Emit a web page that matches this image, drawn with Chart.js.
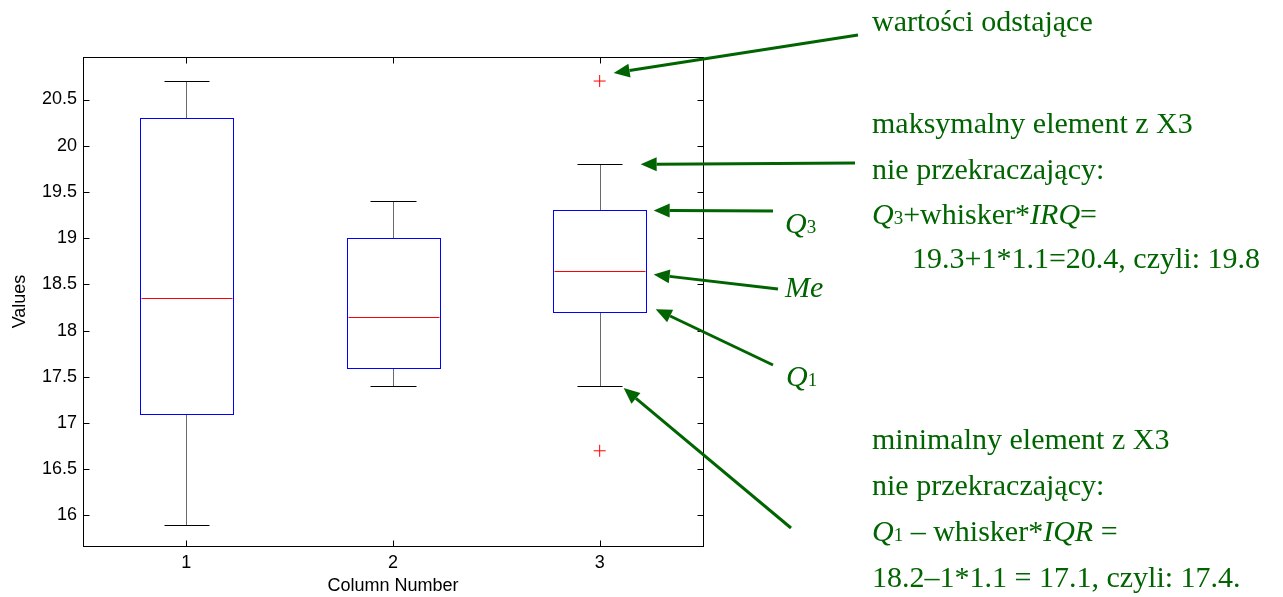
<!DOCTYPE html>
<html>
<head>
<meta charset="utf-8">
<script src="https://cdn.jsdelivr.net/npm/chart.js@4.4.1/dist/chart.umd.min.js"></script>
<style>
  html, body { margin: 0; padding: 0; background: #fff; }
</style>
</head>
<body>
<canvas id="boxChart" width="1283" height="597"></canvas>
<script>
// data
const columns = [1, 2, 3];
const columnLabels = ['1', '2', '3'];
const whiskerLow = [15.9, 17.4, 17.4];
const q1 = [17.1, 17.6, 18.2];
const medians = [18.35, 18.15, 18.65];
const q3 = [20.3, 19.0, 19.3];
const whiskerHigh = [20.7, 19.4, 19.8];
const outlierX = [3, 3];
const outlierY = [20.7, 16.7];
const yTicks = [16, 16.5, 17, 17.5, 18, 18.5, 19, 19.5, 20, 20.5];

const GREEN = '#006400';
const BOX_W = 0.45;
const CAP_W = 0.22;
const SERIF = '"Liberation Serif", "Times New Roman", serif';
const SANS = '"Liberation Sans", Arial, sans-serif';
const axisFont = { family: SANS, size: 18 };

// annotation text (x, baseline, segments)
const notes = [
    { x: 872, y: 31, segs: [{ t: 'wartości odstające' }] },
    { x: 872, y: 133, segs: [{ t: 'maksymalny element z X3' }] },
    { x: 872, y: 179, segs: [{ t: 'nie przekraczający:' }] },
    { x: 872, y: 224, segs: [{ t: 'Q', i: 1 }, { t: '3', sub: 1 }, { t: '+whisker*' }, { t: 'IRQ', i: 1 }, { t: '=' }] },
    { x: 912, y: 268, segs: [{ t: '19.3+1*1.1=20.4, czyli: 19.8' }] },
    { x: 785, y: 233, segs: [{ t: 'Q', i: 1 }, { t: '3', sub: 1 }] },
    { x: 785, y: 297, segs: [{ t: 'Me', i: 1 }] },
    { x: 786, y: 386, segs: [{ t: 'Q', i: 1 }, { t: '1', sub: 1 }] },
    { x: 872, y: 449, segs: [{ t: 'minimalny element z X3' }] },
    { x: 872, y: 495, segs: [{ t: 'nie przekraczający:' }] },
    { x: 872, y: 541, segs: [{ t: 'Q', i: 1 }, { t: '1', sub: 1 }, { t: ' – whisker*' }, { t: 'IQR', i: 1 }, { t: ' =' }] },
    { x: 872, y: 587, segs: [{ t: '18.2–1*1.1 = 17.1, czyli: 17.4.' }] }
];

// arrows: tip anchored to a value of column 3, tail in page pixels
const arrows = [
    { value: 20.7, dx: 14, dy: -8, tail: [858, 35] },
    { value: 19.8, dx: 41, dy: 0, tail: [855, 163] },
    { value: 19.3, dx: 54, dy: 0, tail: [773, 211] },
    { value: 18.65, dx: 54, dy: 4, tail: [778, 289] },
    { value: 18.2, dx: 56, dy: -3, tail: [773, 365] },
    { value: 17.4, dx: 24, dy: 2, tail: [791, 528] }
];

const px = v => Math.round(v) + 0.5;

const boxPlugin = {
    id: 'boxes',
    afterDatasetsDraw(chart) {
        const { ctx, scales: { x, y }, chartArea: a } = chart;
        ctx.save();
        ctx.lineWidth = 1;
        columns.forEach((c, i) => {
            const cx = px(x.getPixelForValue(c));
            const bl = px(x.getPixelForValue(c - BOX_W / 2));
            const br = px(x.getPixelForValue(c + BOX_W / 2));
            const cl = px(x.getPixelForValue(c - CAP_W / 2));
            const cr = px(x.getPixelForValue(c + CAP_W / 2));
            const yq1 = px(y.getPixelForValue(q1[i]));
            const yq3 = px(y.getPixelForValue(q3[i]));
            const ylo = px(y.getPixelForValue(whiskerLow[i]));
            const yhi = px(y.getPixelForValue(whiskerHigh[i]));
            const ymed = px(y.getPixelForValue(medians[i]));

            // whisker stems
            ctx.strokeStyle = '#6a6a6a';
            ctx.beginPath();
            ctx.moveTo(cx, yq3); ctx.lineTo(cx, yhi);
            ctx.moveTo(cx, yq1); ctx.lineTo(cx, ylo);
            ctx.stroke();
            // caps
            ctx.strokeStyle = '#000';
            ctx.beginPath();
            ctx.moveTo(cl, yhi); ctx.lineTo(cr, yhi);
            ctx.moveTo(cl, ylo); ctx.lineTo(cr, ylo);
            ctx.stroke();
            // box
            ctx.strokeStyle = '#0000ff';
            ctx.strokeRect(bl, yq3, br - bl, yq1 - yq3);
            // median
            ctx.strokeStyle = '#ff0000';
            ctx.beginPath();
            ctx.moveTo(bl + 1, ymed); ctx.lineTo(br - 1, ymed);
            ctx.stroke();
        });

        // frame and inward ticks
        ctx.strokeStyle = '#000';
        ctx.lineWidth = 1;
        const L = px(a.left), R = px(a.right), T = px(a.top), B = px(a.bottom);
        ctx.strokeRect(L, T, R - L, B - T);
        ctx.beginPath();
        yTicks.forEach(v => {
            const ty = px(y.getPixelForValue(v));
            ctx.moveTo(L, ty); ctx.lineTo(L + 6, ty);
            ctx.moveTo(R, ty); ctx.lineTo(R - 6, ty);
        });
        columns.forEach(v => {
            const tx = px(x.getPixelForValue(v));
            ctx.moveTo(tx, B); ctx.lineTo(tx, B - 6);
            ctx.moveTo(tx, T); ctx.lineTo(tx, T + 6);
        });
        ctx.stroke();
        ctx.restore();
    }
};

function drawRich(ctx, x0, y0, segs, size) {
    let xx = x0;
    segs.forEach(s => {
        const sz = s.sub ? Math.round(size * 0.62) : size;
        ctx.font = (s.i ? 'italic ' : '') + sz + 'px ' + SERIF;
        ctx.fillText(s.t, xx, y0);
        xx += ctx.measureText(s.t).width;
    });
}

function drawArrow(ctx, x1, y1, x2, y2) {
    const ang = Math.atan2(y2 - y1, x2 - x1);
    const head = 16, half = 7;
    const bx = x2 - head * Math.cos(ang), by = y2 - head * Math.sin(ang);
    ctx.beginPath();
    ctx.moveTo(x1, y1);
    ctx.lineTo(bx, by);
    ctx.stroke();
    ctx.beginPath();
    ctx.moveTo(x2, y2);
    ctx.lineTo(bx + half * Math.sin(ang), by - half * Math.cos(ang));
    ctx.lineTo(bx - half * Math.sin(ang), by + half * Math.cos(ang));
    ctx.closePath();
    ctx.fill();
}

const notePlugin = {
    id: 'notes',
    afterDraw(chart) {
        const { ctx, scales: { x, y } } = chart;
        ctx.save();
        ctx.fillStyle = GREEN;
        ctx.strokeStyle = GREEN;
        ctx.lineWidth = 3;
        ctx.textBaseline = 'alphabetic';
        ctx.textAlign = 'left';
        notes.forEach(n => drawRich(ctx, n.x, n.y, n.segs, 30));
        const x3 = x.getPixelForValue(columns[2]);
        arrows.forEach(ar => {
            drawArrow(ctx, ar.tail[0], ar.tail[1], x3 + ar.dx, y.getPixelForValue(ar.value) + ar.dy);
        });
        ctx.restore();
    }
};

new Chart(document.getElementById('boxChart'), {
    type: 'scatter',
    data: {
        datasets: [{
            label: 'outliers',
            data: outlierX.map((v, i) => ({ x: v, y: outlierY[i] })),
            pointStyle: 'cross',
            radius: 6,
            borderWidth: 1,
            borderColor: '#ff0000',
            backgroundColor: '#ff0000'
        }]
    },
    options: {
        responsive: false,
        animation: false,
        layout: { padding: { top: 57, right: 580, left: 0, bottom: 0 } },
        plugins: {
            legend: { display: false },
            tooltip: { enabled: false }
        },
        scales: {
            x: {
                type: 'linear',
                min: 0.5,
                max: 3.5,
                afterBuildTicks: s => { s.ticks = columns.map(v => ({ value: v })); },
                afterFit: s => { s.height = 51; },
                grid: { display: false, drawTicks: false },
                border: { display: false },
                ticks: {
                    callback: v => columnLabels[columns.indexOf(v)],
                    font: axisFont, color: '#000', padding: 6, maxRotation: 0
                },
                title: {
                    display: true, text: 'Column Number',
                    font: axisFont, color: '#000', padding: { top: 0, bottom: 0 }
                }
            },
            y: {
                min: 15.67,
                max: 20.96,
                afterBuildTicks: s => { s.ticks = yTicks.map(v => ({ value: v })); },
                afterFit: s => { s.width = 83; },
                grid: { display: false, drawTicks: false },
                border: { display: false },
                ticks: {
                    callback: v => String(v),
                    font: axisFont, color: '#000', padding: 6
                },
                title: {
                    display: true, text: 'Values',
                    font: axisFont, color: '#000', padding: { top: 9, bottom: 0 }
                }
            }
        }
    },
    plugins: [boxPlugin, notePlugin]
});
</script>
</body>
</html>
